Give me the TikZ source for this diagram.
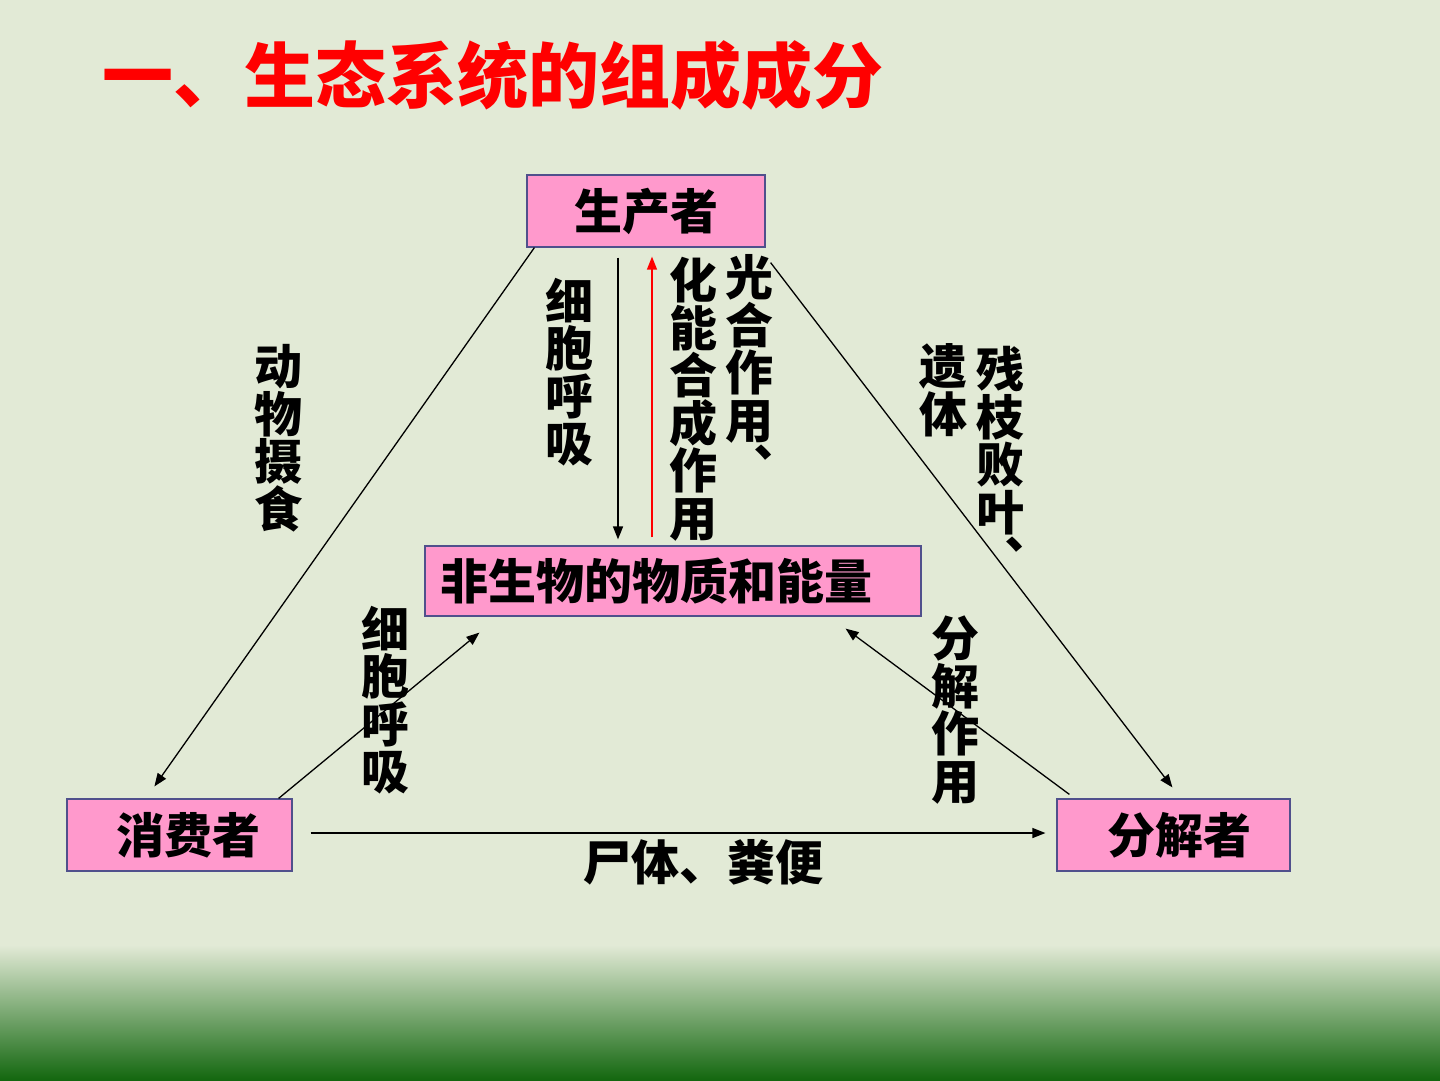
\documentclass[tikz,border=0pt]{standalone}
\usepackage{fontspec}
\newfontfamily\cjk{Noto Sans CJK SC}
\usetikzlibrary{arrows.meta,calc}
\definecolor{bg}{RGB}{226,234,214}
\definecolor{deepgreen}{RGB}{19,103,15}
\definecolor{boxpink}{RGB}{255,153,204}
\definecolor{boxline}{RGB}{80,80,140}
\definecolor{titlered}{RGB}{255,0,0}
\begin{document}
\begin{tikzpicture}[x=1pt,y=-1pt,
  box/.style={draw=boxline, line width=1.2pt, fill=boxpink, minimum height=72pt, inner sep=0pt,
    font=\cjk\bfseries\fontsize{48}{48}\selectfont},
  vlabel/.style={align=center, inner sep=0pt, font=\cjk\bfseries\fontsize{48}{47.5}\selectfont},
  conn/.style={line width=1.3pt, -{Triangle[length=13pt,width=10pt]}},
]
\useasboundingbox (0,0) rectangle (1440,1080);
\fill[bg] (0,0) rectangle (1440,1080);
\shade[top color=bg, bottom color=deepgreen] (0,945) rectangle (1440,1080);

% title
\node[font=\cjk\bfseries\fontsize{71}{71}\selectfont, text=titlered, inner sep=0pt] (title) at (493,75) {一、生态系统的组成成分};

% boxes
\node[box, minimum width=238pt] (prod) at (646,211) {生产者};
\node[box, minimum width=496pt, minimum height=70pt, text width=466pt, align=left] (abio) at (673,581) {非生物的物质和能量};
\node[box, minimum width=225pt] (cons) at (179.5,835) {\hspace*{18pt}消费者};
\node[box, minimum width=233pt] (dec) at (1173.5,835) {\hspace*{12pt}分解者};

% connectors
\draw[conn] ($(prod.south west)+(8,0)$) -- ($(cons.north west)+(88,-12)$);
\draw[conn] ($(cons.north east)+(-14,0)$) -- ($(abio.south west)+(55,16)$);
\draw[conn] ($(prod.south east)+(5,15)$) -- ($(dec.north west)+(116,-11)$);
\draw[conn] ($(dec.north west)+(13,-4)$) -- ($(abio.south east)+(-76,12)$);
\draw[conn] ($(cons.east)+(18,-2)$) -- ($(dec.west)+(-11,-2)$);
\draw[conn] ($(prod.south)+(-28,10)$) -- ($(abio.north)+(-55,-6)$);
\draw[conn, draw=red, -{Triangle[length=13pt,width=10pt,fill=red]}] ($(abio.north)+(-21,-8)$) -- ($(prod.south)+(6,9)$);

% labels
\node[vlabel] (l1) at (278,438) {动\\物\\摄\\食};
\node[vlabel] (l2) at (569,372) {细\\胞\\呼\\吸};
\node[vlabel] (l3) at (693,399) {化\\能\\合\\成\\作\\用};
\node[vlabel] (l4) at (749,370) {光\\合\\作\\用\\︑};
\node[vlabel] (l5) at (943,390) {遗\\体};
\node[vlabel] (l6) at (1000,462) {残\\枝\\败\\叶\\︑};
\node[vlabel] (l7) at (385,700) {细\\胞\\呼\\吸};
\node[vlabel] (l8) at (955,710) {分\\解\\作\\用};
\node[inner sep=0pt, font=\cjk\bfseries\fontsize{48}{48}\selectfont] (l9) at (703,862) {尸体、粪便};
\end{tikzpicture}
\end{document}
